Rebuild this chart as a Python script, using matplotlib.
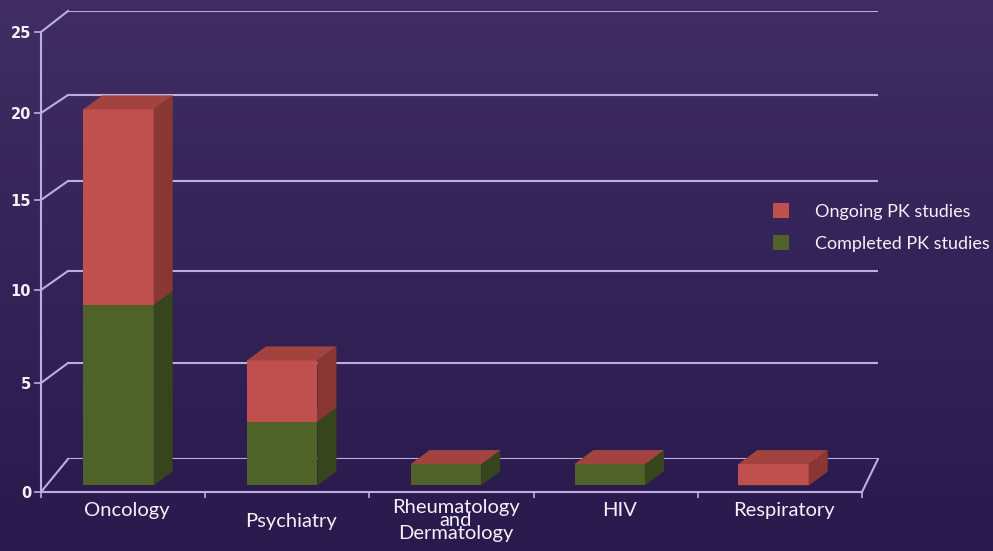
"""
Stacked 3D-style bar chart of PK studies by therapeutic area,
drawn on a purple gradient with a perspective back wall.
"""
import numpy as np
import matplotlib
matplotlib.use("Agg")
import matplotlib.pyplot as plt
from matplotlib.patches import Polygon, Patch

# ---- data ---------------------------------------------------------------
CATEGORIES = ["Oncology", "Psychiatry", "Rheumatology\nand\nDermatology", "HIV", "Respiratory"]
COMPLETED = [9, 3, 1, 1, 0]
ONGOING = [11, 3, 0, 0, 1]
YTICKS = [0, 5, 10, 15, 20, 25]
SERIES_LABELS = ["Ongoing PK studies", "Completed PK studies"]

# ---- layout (pixels of a 993x551 canvas) --------------------------------
W, H = 993, 551
FRONT_BOX = (41, 862, 492, 32)        # left, right, y of 0, y of 25
FRONT_TICK_PX = [492, 383, 290, 200, 113, 32]
BACK_BOX = (68, 878, 459, 11)
BACK_TICK_PX = [459, 363, 271, 181, 95, 11]
BAR_W = 0.43
BAR_SHIFT = -0.06
BAR_DEPTH = 0.2                        # where the bar front sits between the planes
BAR_OFFSET = np.array([19.0, 14.0])    # px of the bar's own depth

GRID = "#bcaedf"
TEXT = "#f4f2f8"
RED = ("#c0504d", "#a3433f", "#8a3734")     # front, top, side
GREEN = ("#4f6228", "#455623", "#36451b")

plt.rcParams["font.family"] = ["Lato", "DejaVu Sans"]


def make_scale(tick_px):
    tick_px = np.asarray(tick_px, float)
    frac = (tick_px[0] - tick_px) / (tick_px[0] - tick_px[-1])
    v_ext = np.r_[-25, YTICKS, 50]
    f_ext = np.r_[frac[0] - 5 * (frac[1] - frac[0]), frac,
                  frac[-1] + 5 * (frac[-1] - frac[-2])]
    return (lambda y: np.interp(y, v_ext, f_ext),
            lambda f: np.interp(f, f_ext, v_ext))


def add_plane(fig, box, tick_px, zorder):
    l, r, y0, yt = box
    a = fig.add_axes([l / W, (H - y0) / H, (r - l) / W, (y0 - yt) / H], zorder=zorder)
    a.set_yscale("function", functions=make_scale(tick_px))
    a.set_xlim(-0.5, 4.5)
    a.set_ylim(0, 25)
    a.patch.set_visible(False)
    return a


fig = plt.figure(figsize=(W / 100, H / 100), dpi=100)

# background gradient
bg = fig.add_axes([0, 0, 1, 1], zorder=0)
grad = np.linspace(0, 1, 256)[:, None]
top_c = np.array(matplotlib.colors.to_rgb("#3f2d63"))
bot_c = np.array(matplotlib.colors.to_rgb("#29194c"))
img = top_c[None, None, :] * (1 - grad[..., None]) + bot_c[None, None, :] * grad[..., None]
bg.imshow(np.repeat(img, 2, axis=1), aspect="auto", extent=[0, 1, 0, 1])
bg.axis("off")

wall = add_plane(fig, BACK_BOX, BACK_TICK_PX, 1)
wall.axis("off")
ax = add_plane(fig, FRONT_BOX, FRONT_TICK_PX, 2)


def to_px(a, x, v):
    return a.transData.transform(np.column_stack([x, v]))


def to_data(pts):
    return ax.transData.inverted().transform(np.asarray(pts))


# back wall gridlines
for v in YTICKS:
    wall.plot([-0.5, 4.5], [v, v], color=GRID, lw=1.5, solid_capstyle="butt")

# side diagonals from the front axis to the back wall, plus right floor edge
for v in YTICKS:
    f = to_px(ax, [-0.5], [v])[0]
    b = to_px(wall, [-0.5], [v])[0]
    d = to_data([f, b])
    ax.plot(d[:, 0], d[:, 1], color=GRID, lw=1.5, clip_on=False)
f = to_px(ax, [4.5], [0])[0]
b = to_px(wall, [4.5], [0])[0]
d = to_data([f, b])
ax.plot(d[:, 0], d[:, 1], color=GRID, lw=1.5, clip_on=False)

# bars
for i in range(len(CATEGORIES)):
    xl, xr = i + BAR_SHIFT - BAR_W / 2, i + BAR_SHIFT + BAR_W / 2
    base = 0
    for val, cols in ((COMPLETED[i], GREEN), (ONGOING[i], RED)):
        top = base + val
        xs = [xl, xr, xr, xl]
        vs = [base, base, top, top]
        fp = to_px(ax, xs, vs)
        bp = to_px(wall, xs, vs)
        p = fp + BAR_DEPTH * (bp - fp)
        front = p
        side = [p[1], p[1] + BAR_OFFSET, p[2] + BAR_OFFSET, p[2]]
        topf = [p[3], p[2], p[2] + BAR_OFFSET, p[3] + BAR_OFFSET]
        for poly, c in ((front, cols[0]), (side, cols[2]), (topf, cols[1])):
            ax.add_patch(Polygon(to_data(poly), closed=True, facecolor=c,
                                 edgecolor="none", lw=0, clip_on=False, zorder=3))
        base = top

# axes styling
for s in ("top", "right"):
    ax.spines[s].set_visible(False)
for s in ("left", "bottom"):
    ax.spines[s].set_color(GRID)
    ax.spines[s].set_linewidth(1.5)
ax.set_yticks(YTICKS)
ax.set_yticklabels([str(t) for t in YTICKS], fontfamily="DejaVu Sans",
                   fontweight="bold", fontsize=10.5)
ax.set_xticks(np.arange(-0.5, 5, 1.0))
ax.set_xticklabels([])
ax.tick_params(axis="y", length=5, width=1.2, color=GRID, labelcolor=TEXT, pad=2)
ax.tick_params(axis="x", length=4, width=1.2, color=GRID)

label_drop = [0, 8, -2, 0, 0]
for i, (lab, drop) in enumerate(zip(CATEGORIES, label_drop)):
    ax.annotate(lab, xy=(i, 0), xytext=(3, -7 - drop), textcoords="offset points",
                ha="center", va="top", fontsize=14.5, color=TEXT,
                linespacing=0.7, annotation_clip=False)

handles = [Patch(facecolor=RED[0], label=SERIES_LABELS[0]),
           Patch(facecolor=GREEN[0], label=SERIES_LABELS[1])]
fig.legend(handles=handles, loc="upper left", bbox_to_anchor=(773 / W, 1 - 203 / H),
           frameon=False, fontsize=13, labelcolor=TEXT, handlelength=0.9,
           handleheight=0.9, handletextpad=1.4, labelspacing=0.85,
           borderpad=0, borderaxespad=0)

fig.savefig("out.png", dpi=100)
